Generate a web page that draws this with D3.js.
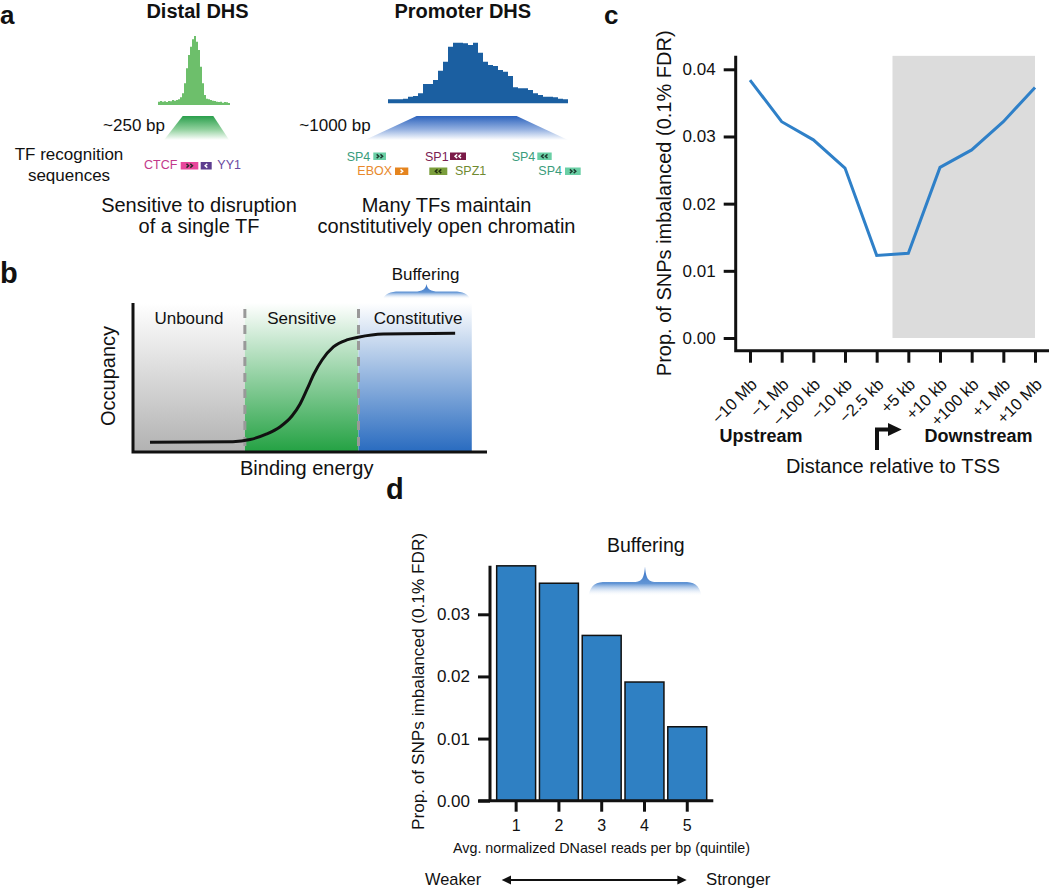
<!DOCTYPE html>
<html><head><meta charset="utf-8">
<script src="https://cdn.jsdelivr.net/npm/d3@7"></script>
<style>
body{margin:0;background:#fff;}
svg{display:block;font-family:"Liberation Sans",Arial,Helvetica,sans-serif;}
</style></head><body>
<svg id="fig" width="1050" height="889"></svg>
<script>
// ================= DATA =================
// Panel a: DNaseI read profiles (binned read density, arbitrary units)
const distalProfile = [10,12,10,11,9,12,11,15,13,15,17,23,35,65,110,150,175,197,207,190,165,115,65,30,19,17,15,13,12,10,9,10,7,9,8,6];
const promoterProfile = [12,12,12,14,20,22,30,58,58,70,98,125,170,182,182,180,175,182,152,125,115,112,100,95,82,48,45,45,40,30,25,20,20,18,14,12];
const distalMotifNames = ["CTCF","YY1"];
const distalMotifStrand = [2,-1];          // + forward chevrons, - reverse; |n| = chevron count
const promoterMotifNames = ["SP4","EBOX","SP1","SPZ1","SP4","SP4"];
const promoterMotifStrand = [2,1,-2,-2,-2,2];

// Panel b: schematic occupancy vs binding energy
const bindingEnergy = [0.48, 2.82, 3.31, 3.78, 4.15, 4.49, 4.72, 4.92, 5.11, 5.34, 5.66, 6.04, 6.36, 7.07, 9.10];
const occupancy     = [0.082,0.087,0.105,0.152,0.211,0.303,0.404,0.531,0.657,0.775,0.885,0.944,0.967,0.994,1.0];
const regionNames  = ["Unbound","Sensitive","Constitutive"];
const regionBounds = [0, 3.16, 6.37, 9.57];

// Panel c: imbalance vs distance to TSS
const tssLabels = ["\u221210 Mb","\u22121 Mb","\u2212100 kb","\u221210 kb","\u22122.5 kb","+5 kb","+10 kb","+100 kb","+1 Mb","+10 Mb"];
const tssValues = [0.0384,0.0322,0.0295,0.0253,0.0123,0.0126,0.0254,0.0280,0.0322,0.0373];
const cYTicks = [0,0.01,0.02,0.03,0.04];

// Panel d: imbalance by DNaseI quintile
const quintiles = ["1","2","3","4","5"];
const quintileValues = [0.0378,0.0350,0.0266,0.0191,0.0119];
const dYTicks = [0,0.01,0.02,0.03];

// ================= DRAW =================
const svg = d3.select("#fig");
const defs = svg.append("defs");
const INK = "#111";

function linGrad(id, stops, userY) {
  const g = defs.append("linearGradient").attr("id", id)
    .attr("x1",0).attr("x2",0).attr("y1",0).attr("y2",1);
  if (userY) g.attr("gradientUnits","userSpaceOnUse").attr("y1",userY[0]).attr("y2",userY[1]);
  stops.forEach(([o,c,op]) => g.append("stop").attr("offset",o).attr("stop-color",c).attr("stop-opacity", op==null?1:op));
}
function txt(x, y, s, size, opt = {}) {
  const t = svg.append("text").attr("x", x).attr("y", y).text(s)
    .attr("font-size", size).attr("fill", opt.fill || INK)
    .attr("text-anchor", opt.anchor || "start");
  if (opt.bold) t.attr("font-weight", "bold");
  if (opt.transform) t.attr("transform", opt.transform);
  return t;
}
function brace(id, x0, x1, yTop, yBar, yEnd, r) {
  const xm = (x0 + x1) / 2;
  linGrad(id, [[0,"#2f6cc4",1],[(yBar-yTop)/(yEnd-yTop)+0.05,"#5089d0",0.9],[1,"#ffffff",0]], [yTop, yEnd]);
  const p = d3.path();
  p.moveTo(x0, yEnd);
  p.bezierCurveTo(x0 + r*0.15, yBar + 2, x0 + r*0.45, yBar, x0 + r, yBar);
  p.lineTo(xm - 12, yBar);
  p.bezierCurveTo(xm - 4, yBar, xm - 1, yBar - 2, xm, yTop);
  p.bezierCurveTo(xm + 1, yBar - 2, xm + 4, yBar, xm + 12, yBar);
  p.lineTo(x1 - r, yBar);
  p.bezierCurveTo(x1 - r*0.45, yBar, x1 - r*0.15, yBar + 2, x1, yEnd);
  p.closePath();
  svg.append("path").attr("d", p.toString()).attr("fill", `url(#${id})`);
}

// ---------- Panel labels ----------
txt(0, 24, "a", 26, {bold:true});
txt(0, 283, "b", 29, {bold:true});
txt(604, 24, "c", 26, {bold:true});
txt(386, 499, "d", 29, {bold:true});

// ---------- Panel a ----------
txt(197.5, 18, "Distal DHS", 20, {bold:true, anchor:"middle"});
txt(462.8, 18, "Promoter DHS", 20, {bold:true, anchor:"middle"});

const stepArea = (xs, ys) => d3.area().x((d,i)=>xs(i)).y0(ys(0)).y1(d=>ys(d)).curve(d3.curveStepAfter);
const xDistal = d3.scaleLinear().domain([0, distalProfile.length]).range([158, 230]);
const yDistal = d3.scaleLinear().domain([0, d3.max(distalProfile)]).range([105, 36]);
svg.append("path").datum([...distalProfile, distalProfile[distalProfile.length-1]])
  .attr("d", stepArea(xDistal, yDistal)).attr("fill", "#6dbf6b");

const xProm = d3.scaleLinear().domain([0, promoterProfile.length]).range([388, 568]);
const yProm = d3.scaleLinear().domain([0, d3.max(promoterProfile)]).range([103.3, 42.7]);
svg.append("path").datum([...promoterProfile, promoterProfile[promoterProfile.length-1]])
  .attr("d", stepArea(xProm, yProm)).attr("fill", "#1b5fa1");

// trapezoids (DHS extent)
linGrad("gTrapG", [[0,"#2a9f4c"],[0.55,"#8fd09c"],[1,"#ffffff"]]);
linGrad("gTrapB", [[0,"#2c63bd"],[0.55,"#92afe0"],[1,"#ffffff"]]);
const trap = (xs, t0, t1, b0, b1) => d3.line()([[xs(t0),116],[xs(t1),116],[xs(b1),140],[xs(b0),140]]) + "Z";
svg.append("path").attr("d", trap(xDistal, 12.35, 27.65, 3, 35.6)).attr("fill","url(#gTrapG)");
svg.append("path").attr("d", trap(xProm, 5.73, 25.73, -4.6, 36)).attr("fill","url(#gTrapB)");

txt(165, 131, "~250 bp", 17, {anchor:"end"});
txt(370.7, 131, "~1000 bp", 17, {anchor:"end"});
txt(69, 160, "TF recognition", 17, {anchor:"middle"});
txt(69, 181, "sequences", 17, {anchor:"middle"});

// motif boxes
function motif(name, strand, tc, bc, cc, tx, ty, bx, bw, by) {
  txt(tx, ty, name, 12.5, {fill: tc});
  svg.append("rect").attr("x", bx).attr("y", by).attr("width", bw).attr("height", 7.5).attr("fill", bc);
  const n = Math.abs(strand), dir = Math.sign(strand);
  const cx0 = bx + bw/2 - (n-1)*1.9, cy = by + 3.75;
  for (let i = 0; i < n; i++) {
    const cx = cx0 + i*3.8;
    svg.append("path")
      .attr("d", d3.line()([[cx - dir*1.1, cy-1.9],[cx + dir*1.1, cy],[cx - dir*1.1, cy+1.9]]))
      .attr("fill","none").attr("stroke", cc).attr("stroke-width", 1.4);
  }
}
const dLay = [
  {tc:"#c2388a", bc:"#e8489c", cc:"#2a2a2a", tx:144, ty:169.3, bx:180.7, bw:17.6, by:162},
  {tc:"#6a4aa0", bc:"#5d3d8f", cc:"#ffffff", tx:217.3, ty:169.3, bx:200.7, bw:11, by:162}
];
distalMotifNames.forEach((n,i)=>{const l=dLay[i]; motif(n, distalMotifStrand[i], l.tc,l.bc,l.cc,l.tx,l.ty,l.bx,l.bw,l.by);});
const pLay = [
  {tc:"#3a9c7c", bc:"#6acfa5", cc:"#1e3a30", tx:346.7, ty:160.7, bx:373.3, bw:12.7, by:152.5},
  {tc:"#e8892c", bc:"#e5841e", cc:"#ffffff", tx:357.3, ty:175, bx:395, bw:13.3, by:167.5},
  {tc:"#7b2152", bc:"#7a1a48", cc:"#ffffff", tx:425, ty:160.7, bx:450, bw:16, by:152.5},
  {tc:"#6f8a30", bc:"#7b9e3c", cc:"#22300e", tx:455, ty:175, bx:429.3, bw:18, by:167.5},
  {tc:"#3a9c7c", bc:"#6acfa5", cc:"#1e3a30", tx:511.7, ty:160.7, bx:537.3, bw:14.4, by:152.5},
  {tc:"#3a9c7c", bc:"#6acfa5", cc:"#1e3a30", tx:538.3, ty:175, bx:565, bw:15.7, by:167.5}
];
promoterMotifNames.forEach((n,i)=>{const l=pLay[i]; motif(n, promoterMotifStrand[i], l.tc,l.bc,l.cc,l.tx,l.ty,l.bx,l.bw,l.by);});

txt(199, 212, "Sensitive to disruption", 20, {anchor:"middle"});
txt(199, 233, "of a single TF", 20, {anchor:"middle"});
txt(446.5, 212, "Many TFs maintain", 20, {anchor:"middle"});
txt(446.5, 233, "constitutively open chromatin", 20, {anchor:"middle"});

// ---------- Panel b ----------
const xB = d3.scaleLinear().domain([0, 10]).range([133, 487]);
const yB = d3.scaleLinear().domain([0, 1]).range([452, 333.3]);
const regionTop = 303, regionBottom = 451;
linGrad("gRegGrey", [[0,"#ffffff"],[1,"#b2b2b2"]]);
linGrad("gRegGreen", [[0,"#ffffff"],[1,"#25a244"]]);
linGrad("gRegBlue", [[0,"#ffffff"],[1,"#2a6cc0"]]);
const regFills = ["url(#gRegGrey)","url(#gRegGreen)","url(#gRegBlue)"];
regionNames.forEach((name, i) => {
  svg.append("rect").attr("x", xB(regionBounds[i])).attr("y", regionTop)
    .attr("width", xB(regionBounds[i+1]) - xB(regionBounds[i])).attr("height", regionBottom - regionTop)
    .attr("fill", regFills[i]);
});
[1,2].forEach(i => {
  svg.append("line").attr("x1", xB(regionBounds[i])).attr("x2", xB(regionBounds[i]))
    .attr("y1", 309).attr("y2", 450).attr("stroke","#999").attr("stroke-width",3)
    .attr("stroke-dasharray","9,7");
});
regionNames.forEach((name, i) => {
  txt((xB(regionBounds[i]) + xB(regionBounds[i+1]))/2 + (i===2?3:0), 324, name, 17, {anchor:"middle"});
});
svg.append("path").datum(d3.zip(bindingEnergy, occupancy))
  .attr("d", d3.line().x(d=>xB(d[0])).y(d=>yB(d[1])).curve(d3.curveMonotoneX))
  .attr("fill","none").attr("stroke", INK).attr("stroke-width", 3);
svg.append("path").attr("d", d3.line()([[xB(0), 303],[xB(0), yB(0)],[xB(10), yB(0)]]))
  .attr("fill","none").attr("stroke", INK).attr("stroke-width", 3);
txt(114.5, 376, "Occupancy", 20, {anchor:"middle", transform:"rotate(-90,114.5,376)"});
txt(306.7, 475, "Binding energy", 20, {anchor:"middle"});
txt(425.5, 280, "Buffering", 17, {anchor:"middle"});
brace("gBraceB", 383, 470, 284, 291.5, 299, 16);

// ---------- Panel c ----------
const xC = d3.scalePoint().domain(tssLabels).range([750, 1035]);
const yC = d3.scaleLinear().domain([0, 0.04]).range([338, 69.3]);
const cAxisX = 735.7, cAxisY = 350.7;
const cTop = yC(0.042);
svg.append("rect")
  .attr("x", (xC(tssLabels[4]) + xC(tssLabels[5]))/2).attr("y", cTop)
  .attr("width", xC(tssLabels[9]) - (xC(tssLabels[4]) + xC(tssLabels[5]))/2)
  .attr("height", yC(0) - cTop).attr("fill", "#dcdcdc");
const gcy = svg.append("g").attr("transform", `translate(${cAxisX},0)`)
  .call(d3.axisLeft(yC).tickValues(cYTicks).tickFormat(d3.format(".2f")).tickSize(12).tickPadding(8));
gcy.select(".domain").remove();
gcy.selectAll(".tick line").attr("stroke", INK).attr("stroke-width", 3);
gcy.selectAll(".tick text").attr("font-size", 17).attr("fill", INK);
gcy.attr("font-family", null);
const gcx = svg.append("g").attr("transform", `translate(0,${cAxisY})`)
  .call(d3.axisBottom(xC).tickSize(12).tickFormat(""));
gcx.select(".domain").remove();
gcx.selectAll(".tick line").attr("stroke", INK).attr("stroke-width", 3);
tssLabels.forEach(l => {
  const x = xC(l) + 8, y = cAxisY + 34.8;
  txt(x, y, l, 16.5, {anchor:"end", transform:`rotate(-45,${x},${y})`});
});
svg.append("path").attr("d", d3.line()([[cAxisX, cTop],[cAxisX, cAxisY],[1049, cAxisY]]))
  .attr("fill","none").attr("stroke", INK).attr("stroke-width", 3);
svg.append("path").datum(tssValues)
  .attr("d", d3.line().x((d,i)=>xC(tssLabels[i])).y(d=>yC(d)))
  .attr("fill","none").attr("stroke","#2f80c8").attr("stroke-width", 3).attr("stroke-linejoin","miter");
txt(671, 203.3, "Prop. of SNPs imbalanced (0.1% FDR)", 20, {anchor:"middle", transform:"rotate(-90,671,203.3)"});
txt(761, 442, "Upstream", 18, {bold:true, anchor:"middle"});
txt(978.5, 442, "Downstream", 18, {bold:true, anchor:"middle"});
svg.append("path").attr("d", d3.line()([[877, 450],[877, 429.5],[890, 429.5]]))
  .attr("fill","none").attr("stroke", INK).attr("stroke-width", 4);
svg.append("path").attr("d", d3.line()([[888, 423],[901.7, 429.5],[888, 436]]) + "Z").attr("fill", INK);
txt(893, 473, "Distance relative to TSS", 20, {anchor:"middle"});

// ---------- Panel d ----------
const xD = d3.scaleBand().domain(quintiles).range([494.75, 708.65]).paddingInner(0.09).paddingOuter(0.045);
const yD = d3.scaleLinear().domain([0, 0.03]).range([800.7, 614.3]);
svg.selectAll(".bar").data(quintileValues).enter().append("rect")
  .attr("x", (d,i)=>xD(quintiles[i])).attr("width", xD.bandwidth())
  .attr("y", d=>yD(d)).attr("height", d=>yD(0)-yD(d))
  .attr("fill", "#2f80c3").attr("stroke", INK).attr("stroke-width", 1.5);
const dAxisX = 490;
const gdy = svg.append("g").attr("transform", `translate(${dAxisX},0)`)
  .call(d3.axisLeft(yD).tickValues(dYTicks).tickFormat(d3.format(".2f")).tickSize(12).tickPadding(8));
gdy.select(".domain").remove();
gdy.selectAll(".tick line").attr("stroke", INK).attr("stroke-width", 3);
gdy.selectAll(".tick text").attr("font-size", 17).attr("fill", INK);
gdy.attr("font-family", null);
const gdx = svg.append("g").attr("transform", `translate(0,${yD(0)})`)
  .call(d3.axisBottom(xD).tickSize(11).tickPadding(8));
gdx.select(".domain").remove();
gdx.selectAll(".tick line").attr("stroke", INK).attr("stroke-width", 3);
gdx.selectAll(".tick text").attr("font-size", 16).attr("fill", INK);
gdx.attr("font-family", null);
svg.append("path").attr("d", d3.line()([[dAxisX, yD(d3.max(quintileValues))],[dAxisX, yD(0)],[478.3, yD(0)],[713.3, yD(0)]]))
  .attr("fill","none").attr("stroke", INK).attr("stroke-width", 3);
txt(424, 681.5, "Prop. of SNPs imbalanced (0.1% FDR)", 17.2, {anchor:"middle", transform:"rotate(-90,424,681.5)"});
txt(601.5, 853, "Avg. normalized DNaseI reads per bp (quintile)", 14.3, {anchor:"middle"});
txt(645.8, 551.7, "Buffering", 19.5, {anchor:"middle"});
brace("gBraceD", 588.3, 701.7, 566.5, 582, 596, 18);
txt(425, 885, "Weaker", 16.4);
txt(706, 885, "Stronger", 16.8);
svg.append("line").attr("x1", 508).attr("x2", 680).attr("y1", 880).attr("y2", 880)
  .attr("stroke", INK).attr("stroke-width", 2);
svg.append("path").attr("d", d3.line()([[501.7,880],[511,875.5],[511,884.5]]) + "Z").attr("fill", INK);
svg.append("path").attr("d", d3.line()([[686.7,880],[677.4,875.5],[677.4,884.5]]) + "Z").attr("fill", INK);
</script>
</body></html>
